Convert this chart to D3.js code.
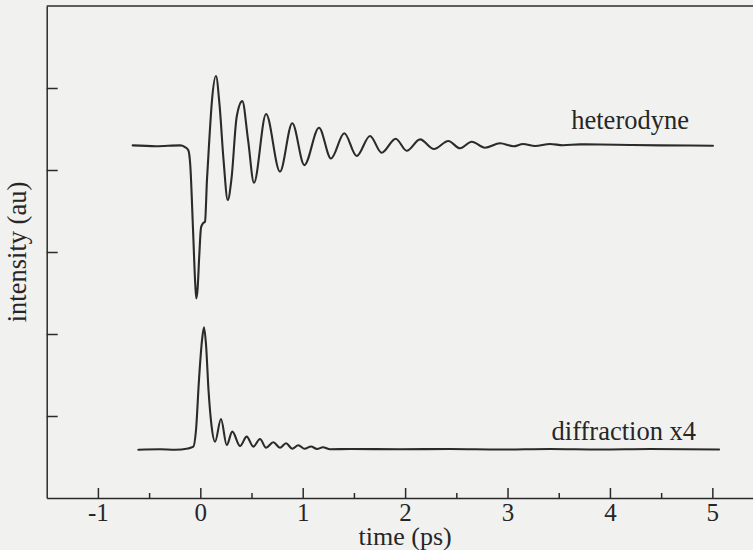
<!DOCTYPE html>
<html>
<head>
<meta charset="utf-8">
<script src="https://cdn.jsdelivr.net/npm/d3@7/dist/d3.min.js"></script>
<style>
  html, body { margin: 0; padding: 0; background: #f1f1f0; }
  svg { display: block; }
  text { font-family: "Liberation Serif", "Times New Roman", serif; fill: #262626; }
</style>
</head>
<body>
<svg id="chart" width="753" height="550"></svg>
<script>
// Heterodyne-detected signal (time in ps, intensity in arbitrary units)
const heteroTime = [-0.66, -0.433, -0.198, -0.149, -0.117, -0.098, -0.071, -0.049, -0.039, -0.027, -0.010,
  0.007, 0.026, 0.046, 0.065, 0.088, 0.114, 0.153, 0.188, 0.227, 0.268, 0.305, 0.355, 0.410, 0.466,
  0.524, 0.642, 0.778, 0.898, 1.016, 1.159, 1.276, 1.406, 1.527, 1.657, 1.771, 1.908, 2.016, 2.146,
  2.282, 2.422, 2.536, 2.650, 2.780, 2.927, 3.057, 3.151, 3.269, 3.415, 3.542, 3.708, 3.903, 4.196,
  4.489, 4.782, 5.006];
const heteroValue = [4.30, 4.29, 4.30, 4.28, 4.24, 4.06, 3.27, 2.60, 2.435, 2.54, 2.96,
  3.30, 3.35, 3.37, 3.88, 4.37, 4.85, 5.146, 4.79, 4.12, 3.634, 3.90, 4.646, 4.84, 4.37,
  3.845, 4.683, 3.98, 4.57, 4.06, 4.516, 4.14, 4.448, 4.171, 4.415, 4.211, 4.382, 4.235, 4.374,
  4.256, 4.354, 4.265, 4.345, 4.272, 4.326, 4.289, 4.317, 4.293, 4.317, 4.301, 4.313, 4.311, 4.305,
  4.30, 4.298, 4.295];

// Diffraction signal, scaled x4
const diffTime = [-0.605, -0.394, -0.247, -0.120, -0.068, -0.042, -0.013, 0.017, 0.036, 0.056, 0.080,
  0.109, 0.144, 0.202, 0.258, 0.3125, 0.388, 0.453, 0.518, 0.583, 0.642, 0.713, 0.778, 0.837, 0.898,
  0.957, 1.018, 1.081, 1.140, 1.198, 1.267, 1.462, 1.950, 2.438, 2.927, 3.415, 3.903, 4.391, 5.066];
const diffValue = [0.589, 0.594, 0.588, 0.604, 0.626, 0.829, 1.439, 1.927, 2.082, 1.866, 1.317,
  0.890, 0.687, 0.963, 0.646, 0.809, 0.634, 0.748, 0.626, 0.720, 0.613, 0.679, 0.613, 0.667, 0.601,
  0.643, 0.600, 0.628, 0.598, 0.618, 0.594, 0.598, 0.594, 0.598, 0.591, 0.598, 0.591, 0.598, 0.591];

const xMajorTicks = [-1, 0, 1, 2, 3, 4, 5];
const xTickLabels = ["-1", "0", "1", "2", "3", "4", "5"];
const xMinorTicks = [-0.5, 0.5, 1.5, 2.5, 3.5, 4.5];
const yTicks = [1, 2, 3, 4, 5];
const seriesLabels = ["heterodyne", "diffraction x4"];

const svg = d3.select("#chart");
const x = d3.scaleLinear().domain([-1.5, 5.4]).range([46.7, 753.3]);
const y = d3.scaleLinear().domain([0, 6]).range([498, 6]);

const ink = "#2b2b2b";
const serif = '"Liberation Serif", "Times New Roman", serif';

// Frame: top edge (left and bottom edges come from the axes)
svg.append("line").attr("x1", x(-1.5)).attr("x2", 760).attr("y1", y(6)).attr("y2", y(6))
  .attr("stroke", ink).attr("stroke-width", 1.5);

// Bottom axis with inward ticks
const xAxis = svg.append("g").attr("transform", `translate(0,${y(0)})`)
  .call(d3.axisBottom(x).tickValues(xMajorTicks).tickSizeInner(-10).tickSizeOuter(0).tickPadding(5)
    .tickFormat((d, i) => xTickLabels[i]));
xAxis.append("g").call(d3.axisBottom(x).tickValues(xMinorTicks).tickSizeInner(-5).tickSizeOuter(0).tickFormat(""));
xAxis.selectAll("g g path.domain").remove();
xAxis.selectAll("path.domain").attr("stroke", ink).attr("stroke-width", 1.5);
xAxis.selectAll("line").attr("stroke", ink).attr("stroke-width", 1.5);
xAxis.selectAll("text").attr("font-size", 25).attr("fill", "#262626").style("font-family", serif);

// Left axis with inward ticks, unlabeled
const yAxis = svg.append("g").attr("transform", `translate(${x(-1.5)},0)`)
  .call(d3.axisLeft(y).tickValues(yTicks).tickSizeInner(-11).tickSizeOuter(0).tickFormat(""));
yAxis.selectAll("path.domain").attr("stroke", ink).attr("stroke-width", 1.5);
yAxis.selectAll("line").attr("stroke", ink).attr("stroke-width", 1.5);

// Traces
const line = d3.line().x(d => x(d[0])).y(d => y(d[1])).curve(d3.curveMonotoneX);
const hetero = heteroTime.map((t, i) => [t, heteroValue[i]]);
const diff = diffTime.map((t, i) => [t, diffValue[i]]);

[hetero, diff].forEach(data => {
  svg.append("path").datum(data).attr("d", line)
    .attr("fill", "none").attr("stroke", ink).attr("stroke-width", 2.1)
    .attr("stroke-linejoin", "round").attr("stroke-linecap", "round");
});

// Series labels
svg.append("text").attr("x", x(4.772)).attr("y", y(4.5)).attr("text-anchor", "end")
  .attr("font-size", 26.5).text(seriesLabels[0]);
svg.append("text").attr("x", x(4.841)).attr("y", y(0.707)).attr("text-anchor", "end")
  .attr("font-size", 26.5).text(seriesLabels[1]);

// Axis titles
svg.append("text").attr("x", x(2)).attr("y", 545).attr("text-anchor", "middle")
  .attr("font-size", 26).text("time (ps)");
svg.append("text").attr("transform", `translate(26,${y(3)}) rotate(-90)`).attr("text-anchor", "middle")
  .attr("font-size", 26.5).text("intensity (au)");
</script>
</body>
</html>
